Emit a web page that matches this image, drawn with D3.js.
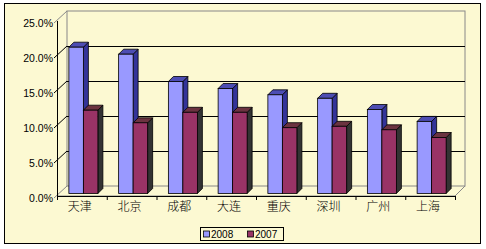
<!DOCTYPE html>
<html>
<head>
<meta charset="utf-8">
<script src="https://cdnjs.cloudflare.com/ajax/libs/d3/7.8.5/d3.min.js"></script>
<style>
body { margin: 0; background: #fff; }
</style>
</head>
<body>
<div id="chart"></div>
<script>
var cities = ["天津", "北京", "成都", "大连", "重庆", "深圳", "广州", "上海"];
var series = ["2008", "2007"];
var values2008 = [0.209, 0.199, 0.160, 0.150, 0.141, 0.136, 0.120, 0.103];
var values2007 = [0.119, 0.101, 0.116, 0.116, 0.094, 0.096, 0.091, 0.080];
var yTicks = [0, 0.05, 0.10, 0.15, 0.20, 0.25];

var width = 486, height = 249;
var front = {left: 57, right: 455, base: 196};
var depth = {dx: 10, dy: -10};
var bgFill = "#fcf9d2";

var colors = {
    "2008": {front: "#9999ff", top: "#4d4db3", side: "#333399"},
    "2007": {front: "#993366", top: "#6b3340", side: "#333333"}
};

var svg = d3.select("#chart")
    .append("svg")
    .attr("width", width)
    .attr("height", height)
    .attr("xmlns", "http://www.w3.org/2000/svg");

// chart area
svg.append("rect")
    .attr("x", 4.5).attr("y", 3.5)
    .attr("width", 476).attr("height", 240)
    .attr("fill", bgFill)
    .attr("stroke", "#000");

var x = d3.scaleBand().domain(cities).range([front.left, front.right]);
var y = d3.scaleLinear().domain([0, 0.25]).range([front.base, front.base - 175]);

// back wall
var bx0 = front.left + depth.dx, bx1 = front.right + depth.dx;
svg.append("rect")
    .attr("x", bx0).attr("y", y(0.25) + depth.dy)
    .attr("width", bx1 - bx0).attr("height", y(0) - y(0.25))
    .attr("fill", "none")
    .attr("stroke", "#888");

// gridlines on back wall
svg.selectAll("line.grid")
    .data(yTicks.filter(function(t){ return t > 0 && t < 0.25; }))
    .enter().append("line")
    .attr("class", "grid")
    .attr("x1", bx0).attr("x2", bx1)
    .attr("y1", function(d){ return y(d) + depth.dy + 0.5; })
    .attr("y2", function(d){ return y(d) + depth.dy + 0.5; })
    .attr("stroke", "#000");

// side wall slants
svg.selectAll("line.slant")
    .data(yTicks)
    .enter().append("line")
    .attr("class", "slant")
    .attr("x1", front.left - 3).attr("y1", function(d){ return y(d) + 2; })
    .attr("x2", bx0).attr("y2", function(d){ return y(d) + depth.dy; })
    .attr("stroke", function(d){ return d === 0 || d === 0.25 ? "#888" : "#000"; });

// floor
svg.append("path")
    .attr("d", "M" + front.left + "," + y(0) + "L" + front.right + "," + y(0) +
        "L" + bx1 + "," + (y(0) + depth.dy))
    .attr("fill", "none")
    .attr("stroke", "#888");

// front vertical axis
svg.append("line")
    .attr("x1", front.left + 0.5).attr("x2", front.left + 0.5)
    .attr("y1", y(0.25)).attr("y2", y(0))
    .attr("stroke", "#000");
svg.append("line")
    .attr("x1", front.left).attr("x2", front.right)
    .attr("y1", y(0) + 0.5).attr("y2", y(0) + 0.5)
    .attr("stroke", "#000");

// category ticks
svg.selectAll("line.ctick")
    .data(cities.concat(["end"]))
    .enter().append("line")
    .attr("class", "ctick")
    .attr("x1", function(d, i){ return front.left + i * x.bandwidth() + 0.5; })
    .attr("x2", function(d, i){ return front.left + i * x.bandwidth() + 0.5; })
    .attr("y1", y(0)).attr("y2", y(0) + 4)
    .attr("stroke", "#000");

// y labels
svg.selectAll("text.ylab")
    .data(yTicks)
    .enter().append("text")
    .attr("class", "ylab")
    .attr("x", 53)
    .attr("y", function(d){ return y(d) + 2; })
    .attr("dy", "0.35em")
    .attr("text-anchor", "end")
    .attr("font-family", "Liberation Sans, Arial, sans-serif")
    .attr("font-size", "10.5px")
    .attr("fill", "#000")
    .text(function(d){ return (d * 100).toFixed(1) + "%"; });

// x labels
svg.selectAll("text.xlab")
    .data(cities)
    .enter().append("text")
    .attr("class", "xlab")
    .attr("x", function(d){ return x(d) + x.bandwidth() / 2 - 2; })
    .attr("y", 211)
    .attr("text-anchor", "middle")
    .attr("font-family", "Noto Sans CJK SC, sans-serif")
    .attr("font-weight", 300)
    .attr("font-size", "12px")
    .attr("fill", "#000")
    .text(function(d){ return d; });

// bars
var barW = 14.5;
var bd = {dx: 5, dy: -5};
var off = {dx: 2.5, dy: -2.5};
var bars = [];
cities.forEach(function(c, i){
    bars.push({city: c, s: "2008", v: values2008[i], k: 0});
    bars.push({city: c, s: "2007", v: values2007[i], k: 1});
});

function barX(d){
    return x(d.city) + (x.bandwidth() - 2 * barW) / 2 - 1 + d.k * barW + off.dx;
}

var g = svg.selectAll("g.bar")
    .data(bars)
    .enter().append("g")
    .attr("class", "bar");

g.append("path")
    .attr("d", function(d){
        var x0 = barX(d), x1 = x0 + barW;
        var yb = y(0) + off.dy, yt = y(d.v) + off.dy;
        return "M" + x1 + "," + yb + "L" + (x1 + bd.dx) + "," + (yb + bd.dy) +
            "L" + (x1 + bd.dx) + "," + (yt + bd.dy) + "L" + x1 + "," + yt + "Z";
    })
    .attr("fill", function(d){ return colors[d.s].side; })
    .attr("stroke", "#000").attr("stroke-width", 0.8);

g.append("path")
    .attr("d", function(d){
        var x0 = barX(d), x1 = x0 + barW;
        var yt = y(d.v) + off.dy;
        return "M" + x0 + "," + yt + "L" + (x0 + bd.dx) + "," + (yt + bd.dy) +
            "L" + (x1 + bd.dx) + "," + (yt + bd.dy) + "L" + x1 + "," + yt + "Z";
    })
    .attr("fill", function(d){ return colors[d.s].top; })
    .attr("stroke", "#000").attr("stroke-width", 0.8);

g.append("rect")
    .attr("x", barX)
    .attr("y", function(d){ return y(d.v) + off.dy; })
    .attr("width", barW)
    .attr("height", function(d){ return y(0) - y(d.v); })
    .attr("fill", function(d){ return colors[d.s].front; })
    .attr("stroke", "#000").attr("stroke-width", 0.8);

// legend
var lg = svg.append("g").attr("transform", "translate(200.5,227.5)");
lg.append("rect")
    .attr("width", 83).attr("height", 13)
    .attr("fill", bgFill)
    .attr("stroke", "#000");
var items = lg.selectAll("g.item")
    .data(series)
    .enter().append("g")
    .attr("class", "item")
    .attr("transform", function(d, i){ return "translate(" + (3 + i * 44) + ",0)"; });
items.append("rect")
    .attr("x", 0).attr("y", 3.5)
    .attr("width", 6).attr("height", 6)
    .attr("fill", function(d){ return colors[d].front; })
    .attr("stroke", "#000").attr("stroke-width", 0.8);
items.append("text")
    .attr("x", 7.5).attr("y", 7)
    .attr("dy", "0.35em")
    .attr("font-family", "Liberation Sans, Arial, sans-serif")
    .attr("font-size", "10px")
    .attr("fill", "#000")
    .text(function(d){ return d; });
</script>
</body>
</html>
